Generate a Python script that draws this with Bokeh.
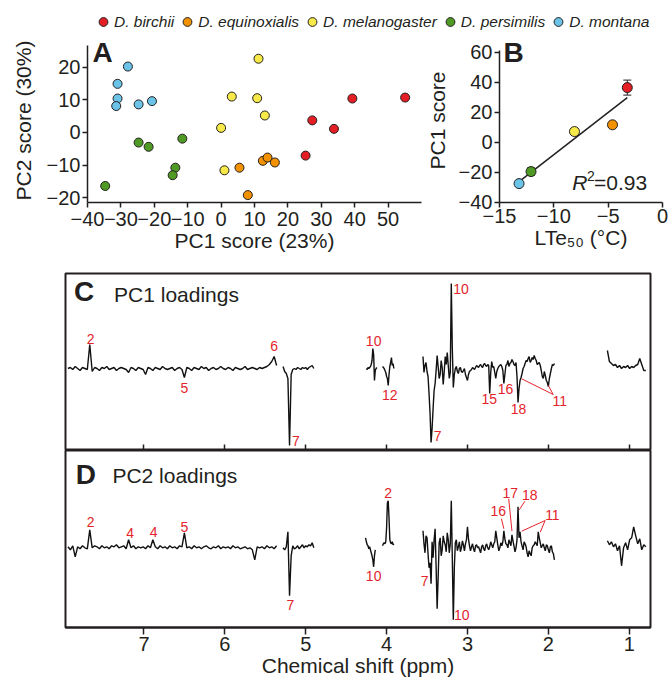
import numpy as np
from bokeh.plotting import figure
from bokeh.models import (Range1d, FixedTicker, Legend, LegendItem, Label, Whisker,
                          ColumnDataSource, TeeHead)
from bokeh.layouts import column, row
from bokeh.core.properties import value
from bokeh.embed import file_html
from bokeh.resources import INLINE

FONT = "Liberation Sans"
INK = "#231f20"
RED_TXT = "#e3242b"

# ---------------- data ----------------
species = ["D. birchii", "D. equinoxialis", "D. melanogaster", "D. persimilis", "D. montana"]
colors = ["#e31e24", "#f39200", "#f7ea48", "#4f9a24", "#6bc4e8"]

# Panel A: PCA scores
pc1_birchii = [25.3, 27.3, 33.8, 39.3, 55.1]
pc2_birchii = [-7.1, 3.7, 1.1, 10.4, 10.7]
pc1_equinoxialis = [8.0, 5.5, 12.5, 13.9, 16.1]
pc2_equinoxialis = [-19.2, -10.8, -8.7, -7.7, -9.2]
pc1_melanogaster = [11.2, 3.2, 10.8, 13.1, 0.0, 1.0]
pc2_melanogaster = [22.6, 11.0, 10.5, 5.2, 1.4, -11.6]
pc1_persimilis = [-34.7, -24.7, -21.7, -11.6, -13.7, -14.5]
pc2_persimilis = [-16.4, -3.1, -4.4, -1.9, -10.8, -13.1]
pc1_montana = [-27.9, -31.0, -31.0, -31.4, -24.7, -20.7]
pc2_montana = [20.2, 14.9, 10.4, 8.1, 8.6, 9.6]

# Panel B: PC1 score vs LTe50
lte50 = [-3.24, -4.6, -8.1, -12.1, -13.2]
pc1_mean = [36.4, 11.6, 7.1, -19.6, -27.6]
pc1_sem = [5.0, 1.5, 1.5, 2.5, 1.5]
r2_text = "=0.93"

# tick values
a_xticks = [-40, -30, -20, -10, 0, 10, 20, 30, 40, 50]
a_yticks = [-20, -10, 0, 10, 20]
b_xticks = [-15, -10, -5, 0]
b_yticks = [-40, -20, 0, 20, 40, 60]
nmr_ticks = [1, 2, 3, 4, 5, 6, 7]

# Panels C/D: loading spectra, segments (start ppm, ppm step, values)
pc1_seg_start = [7.94, 5.28, 4.25, 4.05, 3.55, 1.27]
pc1_seg_step = [0.03, 0.02, 0.01, 0.01, 0.0125, 0.025]
pc1_seg1 = [0, 1, -1, 2, 0, -2, 1, 0, -1, 24,
            -3, 1, 0, -2, 1, 0, 2, -1, 0, 1,
            -2, 0, 1, 0, -1, -4, 1, 0, -2, 1,
            0, -1, -6, 1, 0, -2, 1, 0, -1, 2,
            0, -1, 0, 1, -2, 0, 1, -1, -9, 1,
            0, -2, 1, 0, -1, 2, 0, 1, -2, 0,
            1, -1, 0, 2, 0, -1, 1, 0, -2, 1,
            0, -1, 0, 2, -1, 0, 1, 0, -1, 1,
            0, 1, 2, 4, 7, 12, 3]
pc1_seg2 = [2, -3, -5, -10, -77, -6, -1, 0, -1, 1, 0, -1, 1, 0, 1, -1, 1, 2, 3, 0]
pc1_seg3 = [0, -1, 1, 0, 1, 2, 4, 8, 20, 14, -12, -2, 0, 1]
pc1_seg4 = [2, 1, 0, -2, -4, -8, -10, -17, -6, 2, 6, 11, 3, 5, 0]
pc1_seg5 = [12, -4, 3, 6, -3, -8, -25, -45, -74, -60,
            -40, -22, -15, -2, 13, 2, -10, -6, 8, 1,
            -16, -3, 12, 4, 16, 3, -10, -4, 85, 20,
            -19, -6, 0, 2, -3, -5, 0, 1, -3, -4,
            -2, 0, -6, -9, -12, -6, -3, -2, -1, 1,
            0, -1, 1, 3, 2, 1, 3, 4, 2, 1,
            4, 5, 3, 2, 4, 3, -25, -4, 7, 1,
            2, -4, -10, -3, 0, 2, 3, 4, 2, -2,
            -15, -6, 3, 4, 8, 2, 5, 6, 9, 7,
            4, 3, 6, -8, -34, -20, -12, -9, -5, 0,
            2, 5, 8, 7, 10, 12, 6, 8, 11, 9,
            13, 10, 8, 4, 5, 6, 3, -2, -8, -10,
            -3, -7, -12, -14, -18, -10, -5, 0, 4, 3,
            5]
pc1_seg6 = [18, 7, 5, 3, 4, 1, 3, 0, 2, 1, 3, 0, 2, 1, 3, 4, 10, 4, -2, -2]

pc2_seg_start = [7.94, 5.28, 4.26, 4.05, 3.55, 1.27]
pc2_seg_step = [0.03, 0.02, 0.01, 0.01, 0.0125, 0.025]
pc2_seg1 = [1, -2, 2, -9, 1, -1, 2, 0, -1, 18,
            0, 2, 1, -1, 2, 0, 1, -1, 2, 1,
            3, 0, 1, 2, -1, 8, 0, 2, -1, 1,
            0, 1, -1, 2, 0, 8, 1, -1, 2, 0,
            1, -1, 2, 0, 1, -1, 2, 1, 15, 0,
            1, -1, 2, 0, 1, -1, 1, 2, 0, -1,
            1, 0, 2, -1, 1, 0, 1, -1, 2, 0,
            1, -1, 0, 1, -1, 0, -2, -12, 1, 0,
            1, -1, 2, 0, 1, -1, 2]
pc2_seg2 = [0, -2, 1, 16, -48, -8, 2, -1, 0, 2, -1, 1, 3, 0, 2, 1, 3, 2, 5, 0]
pc2_seg3 = [10, 6, 3, 2, -1, 1, -2, -5, -8, -12, -19, -8, -2]
pc2_seg4 = [2, 4, 5, 4, 6, 20, 45, 47, 30, 8, 5, 4, 6, 3, 4]
pc2_seg5 = [17, 4, -5, 12, 10, -6, -20, -15, -36, 6,
            -10, 8, 19, -20, -61, -30, 5, 10, -8, -2,
            12, 6, 3, -4, 15, 8, -5, 4, 47, -10,
            -72, -20, 5, 8, -3, 1, 6, -4, 0, 7,
            3, -3, 4, 8, 21, 9, 2, -3, 1, 4,
            -1, -4, 2, 3, 0, 1, -2, -5, 1, 3,
            -1, -3, 2, 4, 0, -2, 1, 6, 3, 0,
            4, 6, 17, 10, 3, -3, 0, 5, 2, 6,
            17, 9, 4, 3, 0, 8, 5, 2, 13, 7,
            2, -4, 0, 8, 41, 10, 16, 6, 2, -2,
            6, 4, 1, -5, -9, -3, -6, -8, 0, 2,
            3, 6, 4, 2, 16, 10, 5, 0, 2, 4,
            0, -3, 3, 2, -2, -5, 1, 2, -4, -6,
            -12]
pc2_seg6 = [7, 3, 6, 1, 4, -3, 2, -18, 0, 5, -2, 8, 10, 21, 12, 4, 9, -2, 3, 1]

# peak annotations (ppm, loading, text)
c_lab_ppm = [7.66, 6.50, 5.39, 5.12, 4.16, 3.96, 3.37, 3.08, 2.73, 2.53, 2.37, 1.86]
c_lab_val = [29.7, -19.3, 23, -72.7, 28, -26, -67.7, 79.7, -30.3, -20.3, -40.3, -32.7]
c_lab_txt = ["2", "5", "6", "7", "10", "12", "7", "10", "15", "16", "18", "11"]
c_lead_x0 = [2.33, 2.00]
c_lead_y0 = [-10.3, -17]
c_lead_x1 = [1.94, 1.94]
c_lead_y1 = [-26, -26]

d_lab_ppm = [7.66, 7.17, 6.88, 6.50, 5.19, 4.16, 3.98, 3.53, 3.07, 2.62, 2.47, 2.23, 1.95]
d_lab_val = [26.3, 14.6, 15.6, 21.3, -56.7, -28.4, 55, -33.4, -66.7, 37.3, 55, 53.3, 33.3]
d_lab_txt = ["2", "4", "4", "5", "7", "10", "2", "7", "10", "16", "17", "18", "11"]
d_lead_x0 = [2.58, 2.49, 2.29, 2.04, 2.04]
d_lead_y0 = [29, 49, 46.6, 27.3, 27.3]
d_lead_x1 = [2.55, 2.45, 2.36, 2.33, 2.10]
d_lead_y1 = [19, 16.6, 38, 16.6, 15.6]


def minus_labels(ticks):
    return {t: str(t).replace("-", "\u2212") for t in ticks}


def style_axis(ax, ticks, tick_size="20px"):
    ax.ticker = FixedTicker(ticks=ticks)
    ax.major_label_overrides = minus_labels(ticks)
    ax.axis_line_color = INK
    ax.axis_line_width = 1.5
    ax.major_tick_line_color = INK
    ax.major_tick_line_width = 1.5
    ax.major_tick_out = 5
    ax.major_tick_in = 0
    ax.minor_tick_out = 0
    ax.minor_tick_in = 0
    ax.major_label_text_font = FONT
    ax.major_label_text_font_size = tick_size
    ax.major_label_text_color = INK
    ax.axis_label_text_font = FONT
    ax.axis_label_text_font_size = "21px"
    ax.axis_label_text_font_style = "normal"
    ax.axis_label_text_color = INK


def base_fig(**kw):
    p = figure(output_backend="svg", toolbar_location=None, **kw)
    p.xgrid.visible = False
    p.ygrid.visible = False
    p.background_fill_color = "white"
    p.border_fill_color = "white"
    return p


def letter(text, x, y):
    # panel letter placed in canvas pixels (top-left origin)
    return Label(x=x, y=y, x_units="canvas", y_units="canvas", text=text, text_font=FONT,
                 text_font_style="bold", text_font_size="28px", text_baseline="middle",
                 text_color=INK)


# ---------------- legend strip ----------------
leg = base_fig(width=669, height=35, x_range=Range1d(0, 1), y_range=Range1d(0, 1),
               x_axis_location=None, y_axis_location=None,
               min_border_left=92, min_border_right=0, min_border_top=0, min_border_bottom=0)
leg.outline_line_color = None
items = []
for s, c, lx, ly in zip(species, colors, lte50, pc1_mean):
    # renderer lies outside this strip's ranges: only its legend swatch is seen
    r = leg.scatter(x=[lx], y=[ly], size=10, fill_color=c, line_color=INK, line_width=1)
    items.append(LegendItem(label=s, renderers=[r]))
legend = Legend(items=items, orientation="horizontal", location="bottom_left",
                glyph_width=22, glyph_height=27, label_standoff=0, spacing=2,
                padding=0, margin=0, border_line_color=None, background_fill_alpha=0,
                label_text_font=FONT, label_text_font_style="italic",
                label_text_font_size="15.5px", label_text_color=INK)
leg.add_layout(legend)

# ---------------- panel A ----------------
pa = base_fig(width=422, height=227, x_range=Range1d(-40, 60), y_range=Range1d(-21.47, 28.8),
              min_border_left=87, min_border_right=1, min_border_top=3, min_border_bottom=60)
pa.outline_line_color = None
a_x = [pc1_birchii, pc1_equinoxialis, pc1_melanogaster, pc1_persimilis, pc1_montana]
a_y = [pc2_birchii, pc2_equinoxialis, pc2_melanogaster, pc2_persimilis, pc2_montana]
for xs, ys, c in zip(a_x, a_y, colors):
    pa.scatter(x=xs, y=ys, size=9, fill_color=c, line_color=INK, line_width=1)
style_axis(pa.xaxis[0], a_xticks)
style_axis(pa.yaxis[0], a_yticks)
pa.yaxis.bounds = (-21.47, 26.65)
pa.xaxis.axis_label = "PC1 score (23%)"
pa.yaxis.axis_label = "PC2 score (30%)"
pa.xaxis.major_label_standoff = 4
pa.xaxis.axis_label_standoff = 0
pa.yaxis.major_label_standoff = 2
pa.yaxis.axis_label_standoff = 9
pa.add_layout(letter("A", 92, 17))

# ---------------- panel B ----------------
pb = base_fig(width=247, height=227, x_range=Range1d(-15, 0), y_range=Range1d(-40.2, 69.13),
              min_border_left=73, min_border_right=7, min_border_top=3, min_border_bottom=60)
pb.outline_line_color = None
slope, icpt = np.polyfit(lte50, pc1_mean, 1)
fx = np.array([min(lte50), max(lte50)])
pb.line(fx, slope * fx + icpt, line_color=INK, line_width=1.5)
bsrc = ColumnDataSource(dict(x=lte50, y=pc1_mean,
                             lo=[m - e for m, e in zip(pc1_mean, pc1_sem)],
                             hi=[m + e for m, e in zip(pc1_mean, pc1_sem)],
                             c=colors))
wh = Whisker(source=bsrc, base="x", lower="lo", upper="hi", line_color=INK, line_width=1,
             upper_head=TeeHead(size=8, line_color=INK, line_width=1),
             lower_head=TeeHead(size=8, line_color=INK, line_width=1), level="underlay")
pb.add_layout(wh)
pb.scatter(x="x", y="y", source=bsrc, size=10, fill_color="c", line_color=INK, line_width=1)
style_axis(pb.xaxis[0], b_xticks)
style_axis(pb.yaxis[0], b_yticks)
pb.yaxis.bounds = (-40.2, 61.1)
pb.xaxis.axis_label = "LTe\u2085\u2080 (\u00b0C)"
pb.yaxis.axis_label = "PC1 score"
pb.xaxis.major_label_standoff = 1
pb.xaxis.axis_label_standoff = 0
pb.yaxis.major_label_standoff = 2
pb.yaxis.axis_label_standoff = 7
pb.add_layout(letter("B", 81, 17))
pb.add_layout(Label(x=-8.3, y=-26.7, text="R", text_font=FONT, text_font_style="italic",
                    text_font_size="21px", text_baseline="middle", text_color=INK))
pb.add_layout(Label(x=-6.95, y=-22.3, text="2", text_font=FONT,
                    text_font_size="14px", text_baseline="middle", text_color=INK))
pb.add_layout(Label(x=-6.3, y=-26.7, text=r2_text, text_font=FONT,
                    text_font_size="21px", text_baseline="middle", text_color=INK))


# ---------------- panels C and D ----------------
def spectrum(p, starts, steps, segs):
    for st, sp, vals in zip(starts, steps, segs):
        xs = st - sp * np.arange(len(vals))
        p.line(xs, vals, line_color="#111111", line_width=1.4)


def nmr_fig(height, yr, top, bottom):
    p = base_fig(width=669, height=height, x_range=Range1d(7.97, 0.737), y_range=yr,
                 y_axis_location=None, min_border_left=65, min_border_right=19,
                 min_border_top=top, min_border_bottom=bottom)
    p.outline_line_color = INK
    p.outline_line_width = 2
    p.outline_line_alpha = 1
    return p


pc = nmr_fig(188, Range1d(-82, 95), 11, 0)
spectrum(pc, pc1_seg_start, pc1_seg_step,
         [pc1_seg1, pc1_seg2, pc1_seg3, pc1_seg4, pc1_seg5, pc1_seg6])
pc.segment(x0=c_lead_x0, y0=c_lead_y0, x1=c_lead_x1, y1=c_lead_y1, line_color=RED_TXT, line_width=1)
pc.text(x=c_lab_ppm, y=c_lab_val, text=c_lab_txt, text_align="center", text_baseline="middle",
        text_color=RED_TXT, text_font=value(FONT), text_font_size="14px")
ax = pc.xaxis[0]
ax.ticker = FixedTicker(ticks=nmr_ticks)
ax.major_label_overrides = {t: "" for t in nmr_ticks}
ax.axis_line_color = None
ax.major_tick_in = 6
ax.major_tick_out = 0
ax.minor_tick_in = 0
ax.minor_tick_out = 0
ax.major_tick_line_color = INK
ax.major_tick_line_width = 1.5
ax.major_label_standoff = 0
pc.add_layout(Label(x=7.864, y=77.3, text="C", text_font=FONT, text_font_style="bold",
                    text_font_size="28px", text_baseline="middle", text_color=INK))
pc.add_layout(Label(x=7.37, y=74, text="PC1 loadings", text_font=FONT,
                    text_font_size="21px", text_baseline="middle", text_color=INK))

pd_ = nmr_fig(234, Range1d(-79.7, 97.3), 0, 57)
spectrum(pd_, pc2_seg_start, pc2_seg_step,
         [pc2_seg1, pc2_seg2, pc2_seg3, pc2_seg4, pc2_seg5, pc2_seg6])
pd_.segment(x0=d_lead_x0, y0=d_lead_y0, x1=d_lead_x1, y1=d_lead_y1, line_color=RED_TXT, line_width=1)
pd_.text(x=d_lab_ppm, y=d_lab_val, text=d_lab_txt, text_align="center", text_baseline="middle",
         text_color=RED_TXT, text_font=value(FONT), text_font_size="14px")
style_axis(pd_.xaxis[0], nmr_ticks)
pd_.xaxis.axis_line_width = 2
pd_.xaxis.major_tick_out = 7
pd_.xaxis.major_label_standoff = 2
pd_.xaxis.axis_label = "Chemical shift (ppm)"
pd_.xaxis.axis_label_standoff = 0
pd_.add_layout(Label(x=7.843, y=73.3, text="D", text_font=FONT, text_font_style="bold",
                     text_font_size="28px", text_baseline="middle", text_color=INK))
pd_.add_layout(Label(x=7.39, y=72.3, text="PC2 loadings", text_font=FONT,
                     text_font_size="21px", text_baseline="middle", text_color=INK))

layout = column(row(leg), row(pa, pb, spacing=0), pc, pd_, spacing=0)

with open("out.html", "w") as f:
    f.write(file_html(layout, INLINE))
